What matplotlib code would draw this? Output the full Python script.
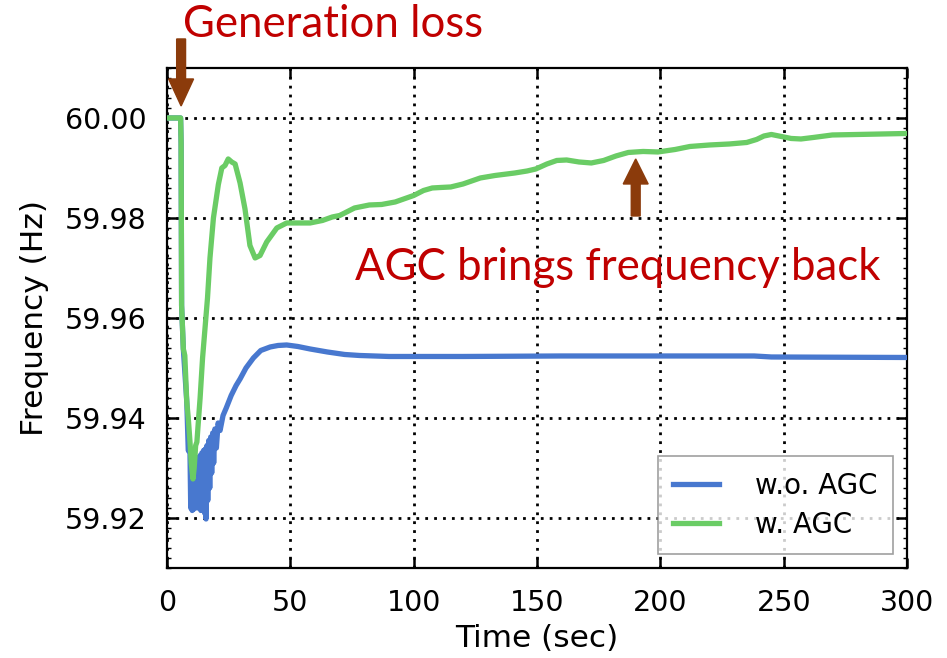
import matplotlib
matplotlib.use("Agg")
import matplotlib.pyplot as plt
import matplotlib.patches as mpatches
from matplotlib.ticker import MultipleLocator

# time axis (sec) and frequency (Hz)
t_agc = [0, 5.5, 5.7, 5.9, 6.6, 7.2, 8.0, 8.6, 9.3, 9.8, 10.5, 11.0, 11.6,
         12.1, 12.8, 13.4, 14.4, 15.4, 16.4, 17.4, 18.8, 20.8, 22.2, 23.5,
         24.8, 26.2, 27.6, 29.6, 31.6, 33.6, 35.7, 37.7, 40.4, 44.5, 48.5,
         53, 58, 63, 67, 70, 76, 82, 87, 92.5, 100, 104, 107.5, 111, 115,
         120, 127, 133, 141, 146, 149.5, 154, 158, 162, 167, 172, 177, 182,
         187, 193, 199, 206, 212, 220, 228, 235, 239, 242, 245, 249, 253,
         257, 262, 269.7, 280, 290, 300]
f_agc = [60.000, 60.000, 59.995, 59.9625, 59.9538, 59.9525, 59.9432, 59.9400,
         59.9352, 59.9310, 59.9278, 59.9300, 59.9345, 59.9352, 59.9400,
         59.9440, 59.9520, 59.9580, 59.9640, 59.9720, 59.9800, 59.9867,
         59.9900, 59.9905, 59.9918, 59.9912, 59.9908, 59.9870, 59.9818,
         59.9745, 59.9720, 59.9725, 59.9752, 59.9780, 59.9790, 59.9790,
         59.9790, 59.9795, 59.9802, 59.9805, 59.9820, 59.9826, 59.9827,
         59.9832, 59.9845, 59.9855, 59.9860, 59.9861, 59.9862, 59.9868,
         59.9880, 59.9885, 59.9890, 59.9894, 59.9898, 59.9908, 59.9915,
         59.9916, 59.9912, 59.9910, 59.9915, 59.9924, 59.9931, 59.9933,
         59.9932, 59.9937, 59.9943, 59.9946, 59.9948, 59.9951, 59.9957,
         59.9964, 59.9967, 59.9963, 59.9959, 59.9958, 59.9961, 59.9966,
         59.9967, 59.9968, 59.9969]

t_no = [0, 5.5, 5.7, 5.9, 6.6, 8.0, 8.6, 9.3, 9.6, 9.9, 10.2, 10.6, 10.9,
        11.3, 11.6, 12.0, 12.3, 12.7, 13.0, 13.4, 13.7, 14.1, 14.4, 14.8,
        15.2, 15.5, 15.8, 16.2, 16.5, 16.9, 17.3, 17.7, 18.1, 18.5, 18.9,
        19.4, 20.0, 20.7, 21.5, 22.7, 24.0, 26.0, 28.0, 29.6, 32.0, 35.0,
        38.0, 41.8, 45.0, 48.5, 53, 58, 65, 72, 78, 90, 120, 160, 200, 238,
        245, 300]
f_no = [60.000, 60.000, 59.995, 59.9625, 59.9538, 59.9432, 59.9335, 59.9330,
        59.9220, 59.9310, 59.9215, 59.9305, 59.9218, 59.9310, 59.9222,
        59.9315, 59.9220, 59.9320, 59.9225, 59.9325, 59.9215, 59.9330,
        59.9222, 59.9335, 59.9210, 59.9338, 59.9198, 59.9345, 59.9235,
        59.9355, 59.9260, 59.9362, 59.9290, 59.9370, 59.9310, 59.9378,
        59.9340, 59.9390, 59.9375, 59.9405, 59.9420, 59.9445, 59.9465,
        59.9478, 59.9500, 59.9520, 59.9535, 59.9542, 59.9545, 59.9546,
        59.9543, 59.9538, 59.9532, 59.9527, 59.9525, 59.9523, 59.9523,
        59.9524, 59.9524, 59.9524, 59.9522, 59.9521]

x_ticks = [0, 50, 100, 150, 200, 250, 300]
y_ticks = [59.92, 59.94, 59.96, 59.98, 60.00]

blue = "#4878CF"
green = "#6ACC65"
brown = "#8B3B0B"
red = "#C00000"

fig = plt.figure(figsize=(9.47, 6.58), dpi=100)
ax = fig.add_axes([0.1764, 0.1368, 0.7814, 0.7599])

ax.plot(t_no, f_no, color=blue, lw=3.8, label="w.o. AGC", zorder=3)
ax.plot(t_agc, f_agc, color=green, lw=3.8, label="w. AGC", zorder=4)

ax.set_xlim(0, 300)
ax.set_ylim(59.91, 60.01)
ax.set_xticks(x_ticks)
ax.set_yticks(y_ticks)
ax.set_yticklabels(["%.2f" % v for v in y_ticks])
ax.yaxis.set_minor_locator(MultipleLocator(0.002))
ax.tick_params(which="major", direction="in", length=7, width=1.8,
               top=True, right=True, labelsize=20.5)
ax.tick_params(axis="x", which="major", pad=15)
ax.tick_params(axis="y", which="major", pad=15)
ax.tick_params(which="minor", direction="in", length=3, width=1,
               right=True, left=True)
for s in ax.spines.values():
    s.set_linewidth(1.6)
ax.grid(True, color="black", linestyle=(0, (1, 2.2)), linewidth=2)

ax.set_xlabel("Time (sec)", fontsize=22.5, labelpad=5)
ax.set_ylabel("Frequency (Hz)", fontsize=22.5, labelpad=11)

leg = ax.legend(loc="lower right", fontsize=20, frameon=True, fancybox=False,
                handlelength=1.65, borderaxespad=0.5, borderpad=0.55,
                labelspacing=0.4, handletextpad=1.3)
leg.get_frame().set_edgecolor("#888888")
leg.get_frame().set_linewidth(1.2)

# arrows (vertical, drawn in data space)
a1 = mpatches.FancyArrow(5.7, 60.0158, 0, -0.0134, width=3.6,
                         head_width=10.1, head_length=0.0054,
                         length_includes_head=True, color=brown,
                         clip_on=False, zorder=6)
a2 = mpatches.FancyArrow(190, 59.9804, 0, 0.0114, width=3.6,
                         head_width=10.1, head_length=0.005,
                         length_includes_head=True, color=brown,
                         clip_on=False, zorder=6)
ax.add_patch(a1)
ax.add_patch(a2)

fig.text(183 / 947, 1 - 37 / 658, "Generation loss", color=red,
         fontsize=31.5, family="Lato", ha="left", va="baseline")
ax.text(355 / 947, 1 - 280 / 658, "AGC brings frequency back", color=red,
        fontsize=31.5, family="Lato", ha="left", va="baseline",
        transform=fig.transFigure, zorder=7)

fig.savefig("out.png", dpi=100)
